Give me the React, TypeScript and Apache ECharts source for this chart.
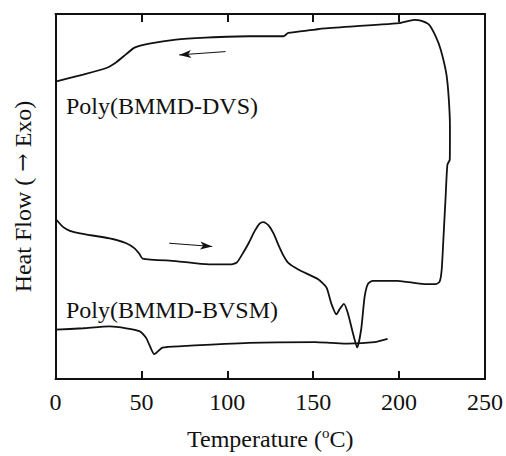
import React, { useEffect, useRef } from "react";
import * as echarts from "echarts";

// Temperature (°C) and heat flow (arbitrary units, 0–100 scale)
const dvsTemp = [
  0, 4.5, 8.4, 14.2, 31.5, 41.2, 46.0, 48.8, 50.7, 70.1, 89.3, 101.8, 105.5, 108.5, 112.4,
  115.9, 118.8, 121.1, 124.0, 126.9, 129.8, 132.7, 135.5, 141.3, 152.9, 157.7, 160.6, 163.5,
  165.6, 167.9, 170.2, 173.1, 175.6, 177.9, 179.9, 181.8, 184.7, 199.1, 214.6, 221.5, 223.6,
  224.8, 226.2, 227.1, 228.1, 229.5, 229.6, 228.9, 227.5, 224.2, 221.3, 217.4, 212.6, 208.8,
  200.1, 154.8, 151.0, 135.5, 132.7, 112.4, 87.4, 70.1, 54.6, 46.0, 41.2, 35.4, 29.6, 16.1, 0,
];
const dvsFlow = [
  43.9, 41.6, 40.6, 39.9, 38.5, 37.2, 35.8, 34.3, 33.0, 32.3, 31.4, 31.4, 31.9, 34.0, 37.2,
  40.5, 42.6, 43.0, 42.1, 39.9, 36.7, 33.8, 31.8, 30.0, 27.3, 25.1, 20.6, 17.7,
  19.3, 20.6, 18.0, 12.6, 8.6, 13.5, 22.4, 26.0, 26.9, 26.9, 26.0, 26.0, 26.7,
  30.0, 42.1, 50.1, 58.7, 60.1, 68.9, 76.9, 83.6, 90.3, 93.9, 97.1, 98.2, 98.4,
  97.5, 96.0, 95.7, 94.8, 93.9, 93.9, 93.5, 93.0, 91.9, 90.8, 89.0, 86.8, 85.2, 83.4, 81.5,
];
const bvsmTemp = [0, 16.1, 31.5, 41.2, 48.8, 52.7, 54.6, 57.5, 62.3, 73.9, 112.4, 151.0, 160.6, 170.2, 185.7, 193.3];
const bvsmFlow = [13.5, 13.9, 14.4, 13.9, 13.1, 11.3, 9.4, 6.8, 8.6, 9.0, 9.9, 10.1, 9.9, 9.7, 10.1, 11.0];

const xTicks = [0, 50, 100, 150, 200, 250];
const coolArrow = [[99.0, 89.7], [72.0, 88.8]];
const heatArrow = [[66.2, 37.2], [91.2, 36.3]];

const FONT = "'Liberation Serif', 'Times New Roman', serif";
const FS = 24;

export default function App() {
  const ref = useRef<HTMLDivElement>(null);
  useEffect(() => {
    if (!ref.current) return;
    const chart = echarts.init(ref.current, null, { renderer: "svg" });
    const dvs = dvsTemp.map((t, i) => [t, dvsFlow[i]]);
    const bvsm = bvsmTemp.map((t, i) => [t, bvsmFlow[i]]);
    const axisLine = { show: true, onZero: false, lineStyle: { color: "#111", width: 2 } };
    const arrowLine = (pts: number[][]) => ({
      silent: true,
      symbol: ["none", "arrow"],
      symbolSize: [6, 12],
      label: { show: false },
      lineStyle: { color: "#111", width: 1, type: "solid" },
      data: [[{ coord: pts[0] }, { coord: pts[1] }]],
    });
    chart.setOption({
      animation: false,
      backgroundColor: "#fff",
      grid: { left: 55.5, right: 18, top: 14, bottom: 69 },
      xAxis: [
        {
          type: "value",
          min: xTicks[0],
          max: xTicks[xTicks.length - 1],
          interval: 50,
          position: "bottom",
          axisLine,
          axisTick: { show: true, inside: true, length: 8, lineStyle: { color: "#111", width: 2 } },
          axisLabel: { fontFamily: FONT, fontSize: FS, color: "#111", margin: 11 },
          splitLine: { show: false },
          name: "{a|Temperature (}{s|o}{a|C)}",
          nameLocation: "middle",
          nameGap: 46,
          nameTextStyle: {
            rich: {
              a: { fontFamily: FONT, fontSize: FS, color: "#111", lineHeight: 28 },
              s: { fontFamily: FONT, fontSize: 15, color: "#111", lineHeight: 15, verticalAlign: "top" },
            },
          },
        },
        {
          type: "value",
          min: xTicks[0],
          max: xTicks[xTicks.length - 1],
          interval: 50,
          position: "top",
          axisLine,
          axisTick: { show: true, inside: true, length: 8, lineStyle: { color: "#111", width: 2 } },
          axisLabel: { show: false },
          splitLine: { show: false },
        },
      ],
      yAxis: [
        {
          type: "value",
          min: 0,
          max: 100,
          position: "left",
          axisLine,
          axisTick: { show: false },
          axisLabel: { show: false },
          splitLine: { show: false },
          name: "{a|Heat Flow ( }{r|\u2192}{a| Exo)}",
          nameLocation: "middle",
          nameGap: 19,
          nameRotate: 90,
          nameTextStyle: {
            rich: {
              a: { fontFamily: FONT, fontSize: FS, color: "#111", lineHeight: 28 },
              r: { fontFamily: "'DejaVu Serif', serif", fontSize: 22, color: "#111", lineHeight: 28 },
            },
          },
        },
        {
          type: "value",
          min: 0,
          max: 100,
          position: "right",
          axisLine,
          axisTick: { show: false },
          axisLabel: { show: false },
          splitLine: { show: false },
        },
      ],
      series: [
        {
          type: "line",
          data: dvs,
          showSymbol: false,
          smooth: 0.2,
          lineStyle: { color: "#111", width: 1.8 },
          markLine: arrowLine(coolArrow),
        },
        {
          type: "line",
          data: bvsm,
          showSymbol: false,
          smooth: 0.2,
          lineStyle: { color: "#111", width: 1.8 },
          markLine: arrowLine(heatArrow),
        },
      ],
      graphic: [
        {
          type: "text",
          left: 66,
          top: 94,
          style: { text: "Poly(BMMD-DVS)", fontFamily: FONT, fontSize: FS, fill: "#111" },
        },
        {
          type: "text",
          left: 66,
          top: 298,
          style: { text: "Poly(BMMD-BVSM)", fontFamily: FONT, fontSize: FS, fill: "#111" },
        },
      ],
    });
    return () => chart.dispose();
  }, []);
  return (
    <div
      ref={ref}
      style={{ position: "absolute", left: 0, top: 0, width: 506, height: 456 }}
    />
  );
}
